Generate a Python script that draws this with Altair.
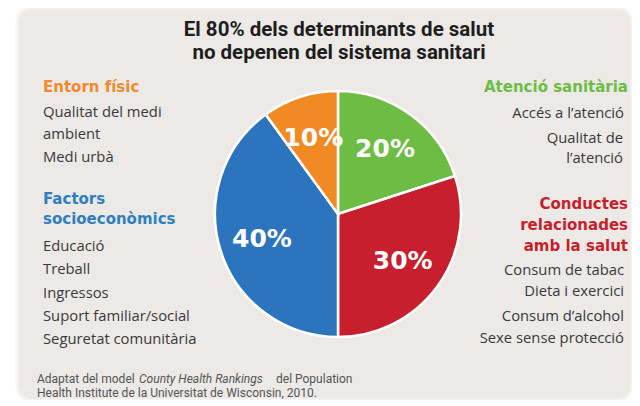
import altair as alt
import pandas as pd

# ---- data ----
categories = ["Atenció sanitària", "Conductes relacionades amb la salut",
              "Factors socioeconòmics", "Entorn físic"]
values = [20, 30, 40, 10]
labels = ["20%", "30%", "40%", "10%"]
slice_colors = ["#6dbd45", "#c71f2d", "#2c74bd", "#f28a24"]

title_lines = ["El 80% dels determinants de salut", "no depenen del sistema sanitari"]

left_heads = ["Entorn físic", "Factors", "socioeconòmics"]
left_head_colors = ["#f08a2e", "#2f7fc1", "#2f7fc1"]
left_items = ["Qualitat del medi", "ambient", "Medi urbà", "Educació", "Treball",
              "Ingressos", "Suport familiar/social", "Seguretat comunitària"]

right_heads = ["Atenció sanitària", "Conductes", "relacionades", "amb la salut"]
right_head_colors = ["#6dbd45", "#c71f2d", "#c71f2d", "#c71f2d"]
right_items = ["Accés a l’atenció", "Qualitat de", "l’atenció", "Consum de tabac",
               "Dieta i exercici", "Consum d’alcohol", "Sexe sense protecció"]

footer_1 = ["Adaptat del model ", "County Health Rankings", " del Population"]
footer_2 = "Health Institute de la Universitat de Wisconsin, 2010."

# ---- layout (pixel positions inside the panel) ----
W, H = 615, 392
CX, CY, R = 321, 206, 123
title_y = [22, 45]
left_x = 26
left_head_y = [79, 191, 211]
left_item_y = [105, 127, 150, 239, 262, 286, 309, 332]
right_x_head = 611
right_head_y = [79, 196, 217, 238]
right_item_y = [106, 131, 151, 263, 284, 309, 331]
right_item_x = [607, 606, 606, 607, 607, 607, 607]
footer_x = [20, 122, 259]
footer_y = [371, 385]


def text_layer(texts, xs, ys, colors=None, **mark_kw):
    df = pd.DataFrame({"t": texts, "x": xs, "y": ys})
    enc = dict(text="t:N", x=alt.X("x:Q", scale=None, axis=None),
               y=alt.Y("y:Q", scale=None, axis=None))
    if colors is not None:
        df["c"] = colors
        enc["color"] = alt.Color("c:N", scale=None, legend=None)
    return alt.Chart(df).mark_text(baseline="middle", **mark_kw).encode(**enc)


pie_df = pd.DataFrame({"cat": categories, "value": values, "label": labels,
                       "ord": list(range(len(categories)))})

pie = alt.Chart(pie_df).mark_arc(outerRadius=R, stroke="white", strokeWidth=2.5).encode(
    theta=alt.Theta("value:Q", stack=True),
    order=alt.Order("ord:Q"),
    color=alt.Color("cat:N", scale=alt.Scale(domain=categories, range=slice_colors), legend=None),
    x=alt.value(CX), y=alt.value(CY),
)

pie_text = alt.Chart(pie_df).mark_text(
    radius=80, font="DejaVu Sans", fontWeight="bold", fontSize=25, color="white",
    baseline="middle", align="center"
).encode(
    theta=alt.Theta("value:Q", stack=True),
    order=alt.Order("ord:Q"),
    text="label:N",
    x=alt.value(CX), y=alt.value(CY),
)

title = text_layer(title_lines, [CX + 1] * 2, title_y, align="center",
                   font="Roboto", fontWeight="bold", fontSize=20.5, color="#1e1e1e")

lh = text_layer(left_heads, [left_x] * 3, left_head_y, left_head_colors, align="left",
                font="DejaVu Sans", fontWeight="bold", fontSize=15)
li = text_layer(left_items, [left_x] * len(left_items), left_item_y, align="left",
                font="Open Sans", fontSize=14.8, color="#3a3a3a")
rh = text_layer(right_heads, [right_x_head] * 4, right_head_y, right_head_colors, align="right",
                font="DejaVu Sans", fontWeight="bold", fontSize=15)
ri = text_layer(right_items, right_item_x, right_item_y, align="right",
                font="Open Sans", fontSize=14.8, color="#3a3a3a")

f1 = text_layer([footer_1[0], footer_1[2]], [footer_x[0], footer_x[2]], [footer_y[0]] * 2,
                align="left", font="Roboto", fontSize=12, color="#555555")
f1i = text_layer([footer_1[1]], [footer_x[1]], [footer_y[0]], align="left",
                 font="Roboto", fontStyle="italic", fontSize=12, color="#555555")
f2 = text_layer([footer_2], [footer_x[0]], [footer_y[1]], align="left",
                font="Roboto", fontSize=12, color="#555555")

chart = alt.layer(pie, pie_text, title, lh, li, rh, ri, f1, f1i, f2).properties(
    width=W, height=H,
    padding={"left": 9, "top": 0, "right": 0, "bottom": 0},
    autosize=alt.AutoSizeParams(type="none"),
    background="white",
).configure_view(
    fill="#ece9e6", stroke="#f5f4f2", strokeWidth=3, cornerRadius=14
)

chart.save("out.html", embed_options={"renderer": "svg", "actions": False})
